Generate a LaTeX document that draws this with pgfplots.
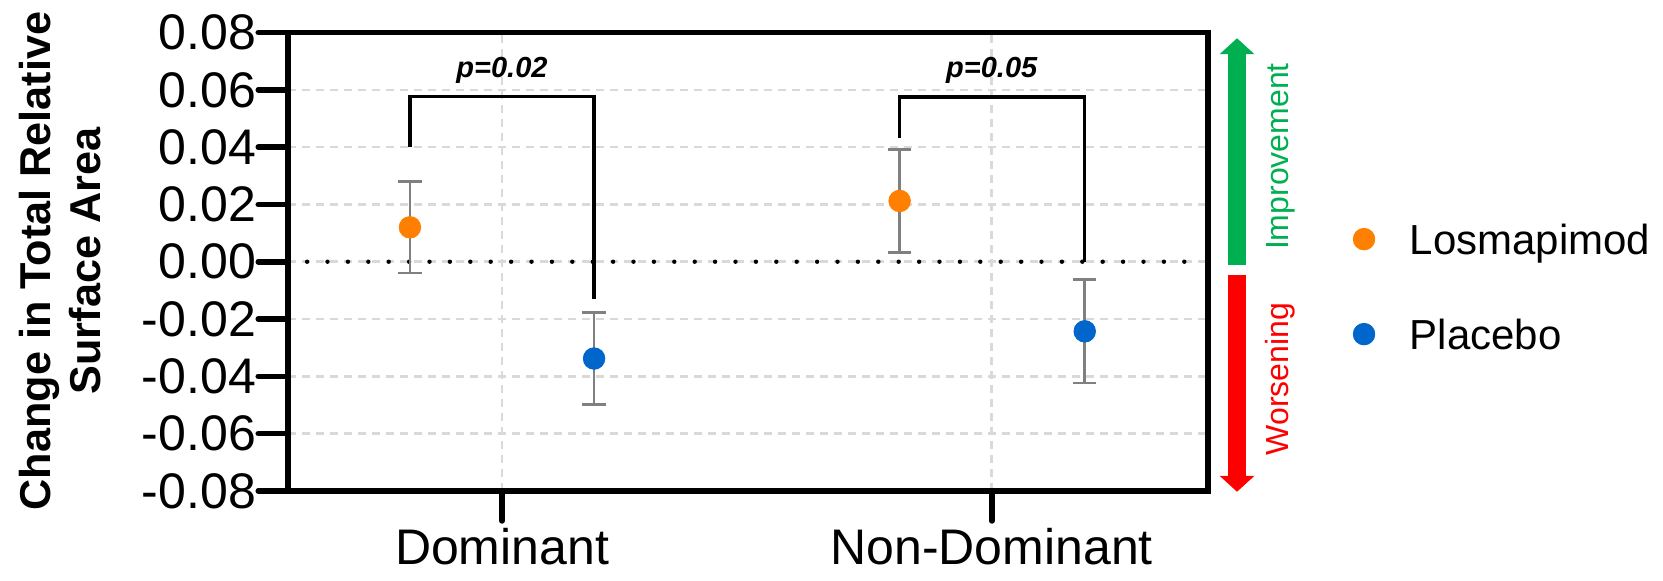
\documentclass[border=0pt]{standalone}
\usepackage{pgfplots}
\pgfplotsset{compat=1.18}
\usetikzlibrary{arrows.meta}
\usepackage{fontspec}
\setmainfont{Liberation Sans}
\definecolor{orng}{HTML}{FF8000}
\definecolor{blu}{HTML}{0066CC}
\definecolor{errg}{HTML}{808080}
\definecolor{gridg}{HTML}{D9D9D9}
\definecolor{grn}{HTML}{00B050}
\definecolor{rd}{HTML}{FF0000}
\begin{document}
\begin{tikzpicture}
\path[use as bounding box] (-144.15pt,-44.55pt) rectangle (687.35pt,245.45pt);
\begin{axis}[
  at={(0,0)}, anchor=south west,
  scale only axis, width=459.85pt, height=229.2pt,
  xmin=0.5636, xmax=2.4417, ymin=-0.08, ymax=0.08,
  xtick={1,2}, xticklabels={Dominant,Non-Dominant},
  ytick={-0.08,-0.06,-0.04,-0.02,0,0.02,0.04,0.06,0.08},
  yticklabels={-0.08,-0.06,-0.04,-0.02,0.00,0.02,0.04,0.06,0.08},
  scaled y ticks=false,
  tick pos=left, tick align=outside,
  major tick length=15pt,
  tick style={black, line width=2.8pt, line cap=round},
  axis line style={line width=2.8pt, line cap=round},
  grid=major,
  major grid style={gridg, line width=1.3pt, dash pattern=on 4pt off 3pt},
  ticklabel style={font=\fontsize{25}{30}\selectfont},
  yticklabel style={inner sep=1pt},
  clip=false,
  ylabel={Change in Total Relative\\Surface Area},
  ylabel style={font=\fontsize{21.6}{25}\selectfont\bfseries, align=center,
    at={(axis description cs:-0.2483,0.5015)}, anchor=center},
  legend cell align=left,
  legend image code/.code={\draw[#1] plot coordinates {(0pt,0pt)};},
  legend style={draw=none, fill=none, inner sep=0pt, outer sep=0pt,
    at={(axis description cs:1.1579,0.582)}, anchor=north west,
    font=\fontsize{21}{25}\selectfont, row sep=32.5pt, column sep=17.5pt,
    nodes={inner sep=0pt, text height=15pt, text depth=0pt}},
]
\addplot[black, line width=2.2pt, dash pattern=on 0pt off 10.2pt, line cap=round, forget plot]
  coordinates {(0.602,0) (2.401,0)};

\addplot[only marks, mark=*, mark size=5.4pt, mark options={fill=orng, draw=orng},
  error bars/.cd, y dir=both, y explicit,
  error bar style={errg, line width=1.3pt},
  error mark options={rotate=90, errg, mark size=5.8pt, line width=1.3pt}]
  coordinates {(0.812,0.0120) +- (0,0.0160) (1.812,0.0212) +- (0,0.0180)};
\addlegendentry{Losmapimod}

\addplot[only marks, mark=*, mark size=5.4pt, mark options={fill=blu, draw=blu},
  error bars/.cd, y dir=both, y explicit,
  error bar style={errg, line width=1.3pt},
  error mark options={rotate=90, errg, mark size=5.8pt, line width=1.3pt}]
  coordinates {(1.188,-0.0338) +- (0,0.0160) (2.190,-0.0243) +- (0,0.0180)};
\addlegendentry{Placebo}

\draw[black, line width=1.65pt] (axis cs:0.812,0.0400) -- (axis cs:0.812,0.0577)
  -- (axis cs:1.188,0.0577) -- (axis cs:1.188,-0.0130);
\draw[black, line width=1.65pt] (axis cs:1.812,0.0433) -- (axis cs:1.812,0.0575)
  -- (axis cs:2.190,0.0575) -- (axis cs:2.190,0);
\node[font=\fontsize{14.5}{17}\selectfont\bfseries\itshape] at (axis cs:1,0.0668) {p=0.02};
\node[font=\fontsize{14.5}{17}\selectfont\bfseries\itshape] at (axis cs:2,0.0668) {p=0.05};

\draw[grn, line width=8.7pt, -{Triangle[width=17pt,length=8pt]}]
  (axis cs:2.501,-0.0012) -- (axis cs:2.501,0.0780);
\draw[rd, line width=8.7pt, -{Triangle[width=17pt,length=8pt]}]
  (axis cs:2.501,-0.0046) -- (axis cs:2.501,-0.0803);
\node[rotate=90, font=\fontsize{16}{19}\selectfont, text=grn] at (axis cs:2.590,0.0367) {Improvement};
\node[rotate=90, font=\fontsize{16}{19}\selectfont, text=rd] at (axis cs:2.590,-0.0410) {Worsening};
\end{axis}
\end{tikzpicture}
\end{document}
